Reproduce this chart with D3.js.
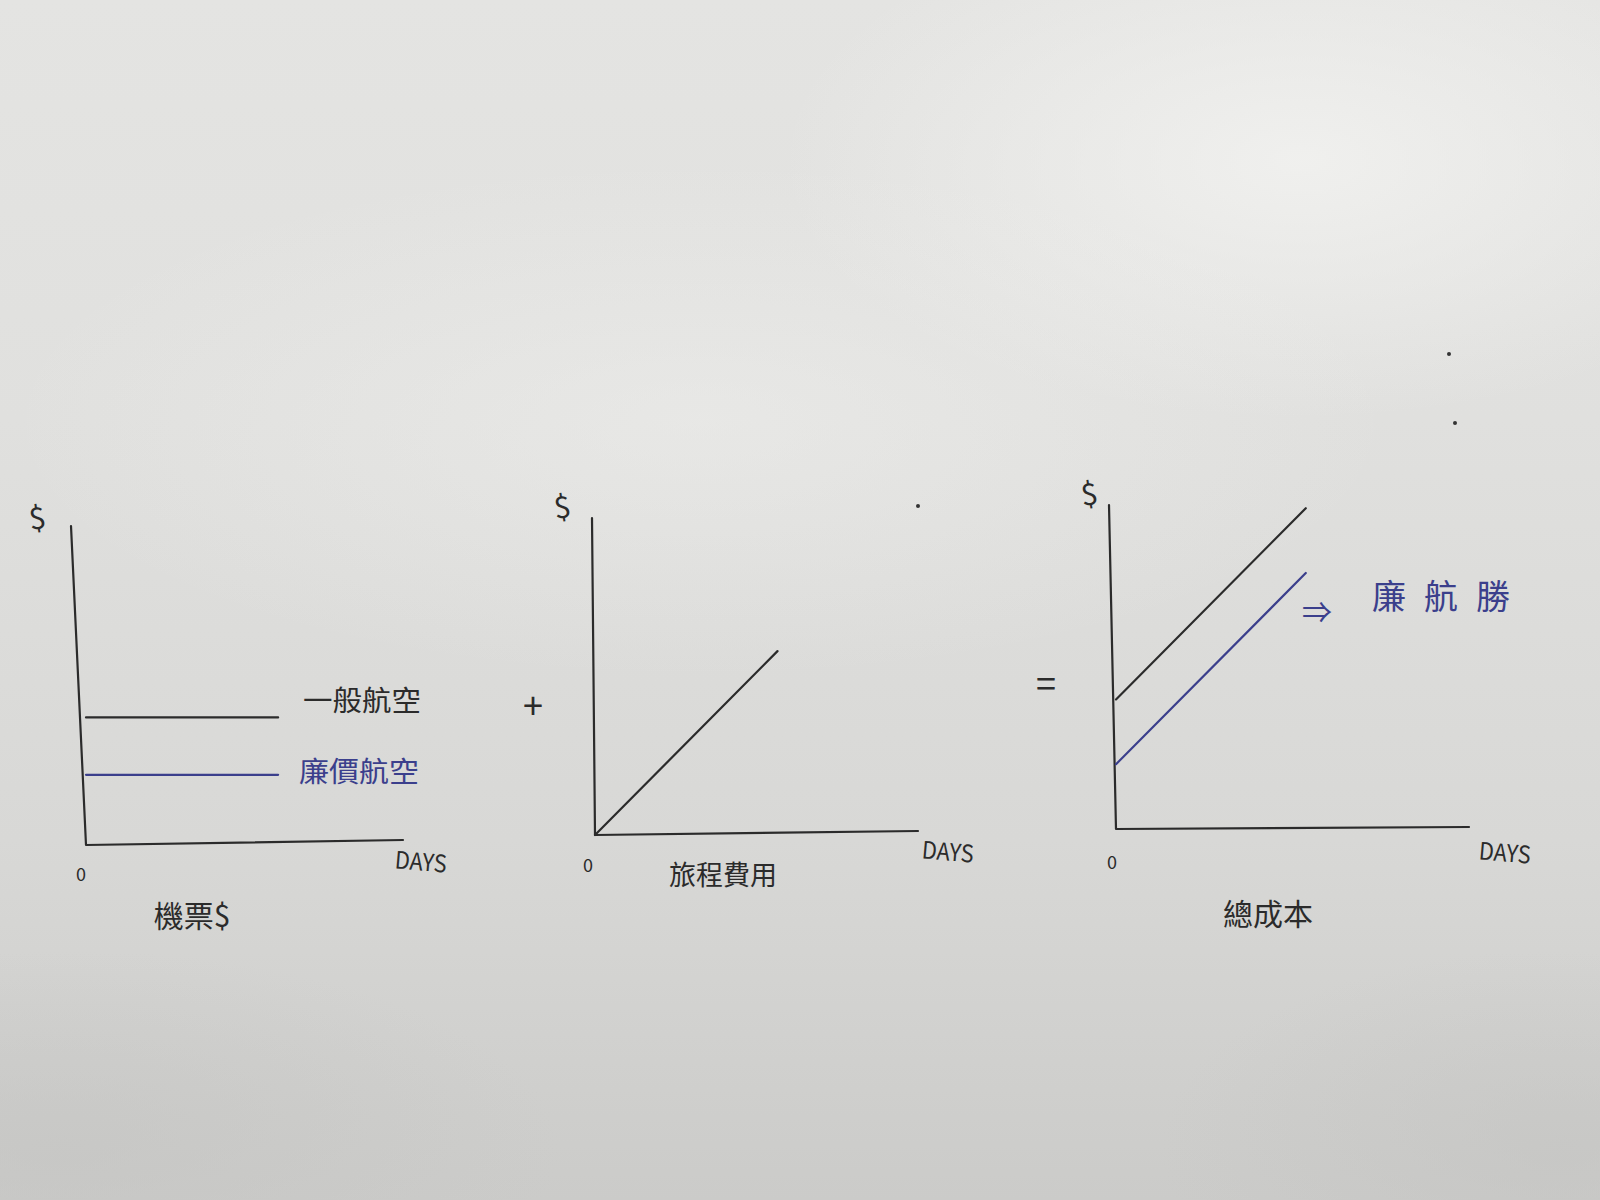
<!DOCTYPE html>
<html>
<head>
<meta charset="utf-8">
<script src="https://cdn.jsdelivr.net/npm/d3@7"></script>
<style>
  html, body { margin: 0; padding: 0; width: 1600px; height: 1200px; overflow: hidden; }
  svg { display: block; }
</style>
</head>
<body>
<script>
// ---------- DATA ($ on a 0–100 scale) ----------
const days = [0, 10];
const regularFare = [40, 40];        // 一般航空
const lowCostFare = [22, 22];        // 廉價航空
const travelCost = [0, 58];          // 旅程費用
const totalRegular = [40, 99];       // 總成本 (一般航空)
const totalLowCost = [20, 79];       // 總成本 (廉價航空)
const panelTitles = ["機票$", "旅程費用", "總成本"];
const seriesNames = ["一般航空", "廉價航空"];
const operators = ["+", "="];
const conclusion = "廉航勝";
const xAxisLabel = "DAYS";
const yAxisLabel = "$";
const originLabel = "0";

// ---------- LAYOUT ----------
const W = 1600, H = 1200;
const ink = "#2b2b2b", blue = "#3b3f8c";
const font = "'Noto Sans CJK TC', 'Noto Sans', sans-serif";

const svg = d3.select("body").append("svg").attr("width", W).attr("height", H);
const defs = svg.append("defs");

// paper background
const lg = defs.append("linearGradient").attr("id", "paper").attr("x1", 0).attr("y1", 0).attr("x2", 0).attr("y2", 1);
lg.append("stop").attr("offset", "0%").attr("stop-color", "#e4e4e2");
lg.append("stop").attr("offset", "35%").attr("stop-color", "#e0e0de");
lg.append("stop").attr("offset", "70%").attr("stop-color", "#d8d8d6");
lg.append("stop").attr("offset", "100%").attr("stop-color", "#cbcbc9");
svg.append("rect").attr("width", W).attr("height", H).attr("fill", "url(#paper)");
const rg = defs.append("radialGradient").attr("id", "glow").attr("cx", 0.5).attr("cy", 0.5).attr("r", 0.5);
rg.append("stop").attr("offset", "0%").attr("stop-color", "#f2f2f0").attr("stop-opacity", 0.85);
rg.append("stop").attr("offset", "100%").attr("stop-color", "#f2f2f0").attr("stop-opacity", 0);
svg.append("ellipse").attr("cx", 1300).attr("cy", 160).attr("rx", 520).attr("ry", 260).attr("fill", "url(#glow)");
svg.append("ellipse").attr("cx", 700).attr("cy", 420).attr("rx", 700).attr("ry", 260).attr("fill", "url(#glow)").attr("opacity", 0.5);
const rd = defs.append("radialGradient").attr("id", "shade").attr("cx", 0.5).attr("cy", 0.5).attr("r", 0.5);
rd.append("stop").attr("offset", "0%").attr("stop-color", "#c4c4c2").attr("stop-opacity", 0.6);
rd.append("stop").attr("offset", "100%").attr("stop-color", "#c4c4c2").attr("stop-opacity", 0);
svg.append("ellipse").attr("cx", 60).attr("cy", 1150).attr("rx", 500).attr("ry", 200).attr("fill", "url(#shade)");
svg.append("ellipse").attr("cx", 1560).attr("cy", 1150).attr("rx", 400).attr("ry", 200).attr("fill", "url(#shade)");

// scan specks
[[1449, 354], [1455, 423], [918, 506]].forEach(([x, y]) =>
  svg.append("circle").attr("cx", x).attr("cy", y).attr("r", 2).attr("fill", "#333"));

// panel geometry: origin, x-axis end, y-axis top, x domain max
const panels = [
  { ox: 86, oy: 845, xEnd: 403, xEndY: 840, yTop: 526, yTopX: 71, xMax: 16.5,
    series: [{ v: regularFare, c: ink }, { v: lowCostFare, c: blue }] },
  { ox: 595, oy: 835, xEnd: 918, xEndY: 831, yTop: 518, yTopX: 592, xMax: 17.7,
    series: [{ v: travelCost, c: ink }] },
  { ox: 1116, oy: 829, xEnd: 1469, xEndY: 827, yTop: 505, yTopX: 1109, xMax: 18.6,
    series: [{ v: totalRegular, c: ink }, { v: totalLowCost, c: blue }] }
];

panels.forEach(p => {
  const x = d3.scaleLinear().domain([0, p.xMax]).range([p.ox, p.xEnd]);
  const y = d3.scaleLinear().domain([0, 100]).range([p.oy, p.yTop]);
  const g = svg.append("g");
  // hand-drawn axes (slightly tilted)
  g.append("path")
    .attr("d", d3.line()([[p.yTopX, y(100)], [x(0), y(0)], [x(p.xMax), p.xEndY]]))
    .attr("fill", "none").attr("stroke", ink).attr("stroke-width", 2.2)
    .attr("stroke-linejoin", "round").attr("stroke-linecap", "round");
  // series
  p.series.forEach(s => {
    const pts = days.map((d, i) => [x(d), y(s.v[i])]);
    g.append("path").attr("d", d3.line()(pts))
      .attr("fill", "none").attr("stroke", s.c).attr("stroke-width", 2.2)
      .attr("stroke-linecap", "round");
  });
  p.x = x; p.y = y;
});

function txt(str, x, y, size, color, opts = {}) {
  return svg.append("text").attr("x", x).attr("y", y)
    .attr("font-family", font).attr("font-size", size).attr("fill", color)
    .attr("text-anchor", opts.anchor || "middle").attr("dominant-baseline", "central")
    .attr("font-weight", opts.weight || 400)
    .attr("transform", opts.rot ? `rotate(${opts.rot},${x},${y})` : null)
    .text(str);
}

// axis labels
[[37, 516], [562, 505], [1089, 492]].forEach(([x, y]) => txt(yAxisLabel, x, y, 30, ink, { rot: -8 }));
[[81, 873], [588, 864], [1112, 861]].forEach(([x, y]) => txt(originLabel, x, y, 18, ink));
[[421, 860], [948, 850], [1505, 851]].forEach(([x, y]) => txt(xAxisLabel, x, y, 24, ink, { rot: 5 }).attr("textLength", 52).attr("lengthAdjust", "spacingAndGlyphs"));

// panel titles
txt(panelTitles[0], 192, 914, 30, ink);
txt(panelTitles[1], 723, 873, 27, ink);
txt(panelTitles[2], 1268, 912, 30, ink);

// series labels
txt(seriesNames[0], 303, 699, 28, ink, { anchor: "start" }).attr("textLength", 118).attr("lengthAdjust", "spacingAndGlyphs");
txt(seriesNames[1], 299, 770, 28, blue, { anchor: "start" }).attr("textLength", 120).attr("lengthAdjust", "spacingAndGlyphs");

// operators
txt(operators[0], 533, 703, 36, ink);
txt(operators[1], 1046, 681, 36, ink);

// conclusion
txt("⇒", 1317, 610, 30, blue);
txt(conclusion, 1372, 594, 34, blue, { anchor: "start" }).attr("textLength", 138).attr("lengthAdjust", "spacing");
</script>
</body>
</html>
